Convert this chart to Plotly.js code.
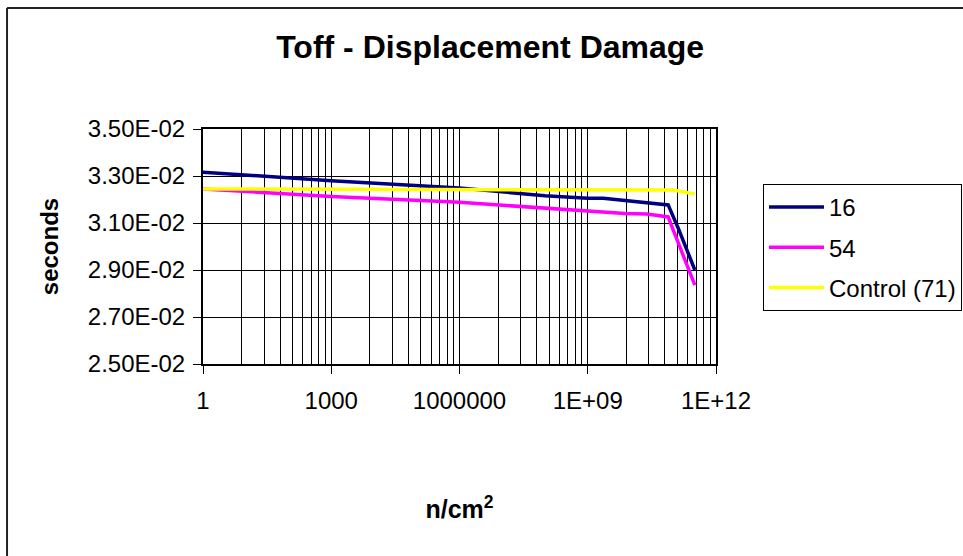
<!DOCTYPE html>
<html><head><meta charset="utf-8">
<script src="https://cdn.plot.ly/plotly-3.0.1.min.js"></script>
<style>html,body{margin:0;padding:0;background:#fff}#chart{width:963px;height:556px}</style>
</head><body><div id="chart"></div>
<script>
const fluence16 = [1, 1e3, 1e6, 1e8, 1e9, 2.3e9, 7.6e10, 1.3e11, 3.2e11];
const toff16 = [0.03316, 0.0328, 0.03249, 0.03216, 0.03205, 0.03205, 0.03177, 0.03079, 0.02900];
const fluence54 = [1, 1e3, 1e6, 6.6e8, 7.4e9, 2.4e10, 7.6e10, 1.05e11, 3.2e11];
const toff54 = [0.03245, 0.03213, 0.03188, 0.03155, 0.0314, 0.03138, 0.03126, 0.0306, 0.02836];
const fluence71 = [1, 1e6, 7.6e10, 1e11, 3.2e11];
const toff71 = [0.03245, 0.03242, 0.0324, 0.0324, 0.03223];
const seriesNames = ["16", "54", "Control (71)"];
const xTickVals = [1, 1e3, 1e6, 1e9, 1e12];
const xTickText = ["1", "1000", "1000000", "1E+09", "1E+12"];
const yTickVals = [0.025, 0.027, 0.029, 0.031, 0.033, 0.035];
const yTickText = ["2.50E-02", "2.70E-02", "2.90E-02", "3.10E-02", "3.30E-02", "3.50E-02"];

const font = "Arial, 'Liberation Sans', sans-serif";
const traces = [
  {x: fluence16, y: toff16, name: seriesNames[0], legendgroup: "a", mode: "lines", line: {color: "#000080", width: 3.5}},
  {x: fluence54, y: toff54, name: seriesNames[1], legendgroup: "b", mode: "lines", line: {color: "#FF00FF", width: 3.5}},
  {x: fluence71, y: toff71, name: seriesNames[2], legendgroup: "c", mode: "lines", line: {color: "#FFFF00", width: 3.5}}
];
const layout = {
  width: 963, height: 556,
  margin: {l: 203, r: 247, t: 129, b: 192, autoexpand: false},
  paper_bgcolor: "#fff", plot_bgcolor: "#fff",
  font: {family: font, size: 24, color: "#000"},
  title: {text: "<b>Toff - Displacement Damage</b>", font: {family: font, size: 32, color: "#000"}, x: 0.509, xanchor: "center", y: 0.9155, yanchor: "middle"},
  showlegend: true,
  legend: {x: 1.0916, xanchor: "left", y: 0.766, yanchor: "top", bordercolor: "#000", borderwidth: 1, bgcolor: "#fff",
           font: {size: 24, family: font}, itemwidth: 55, traceorder: "grouped", tracegroupgap: 6},
  xaxis: {
    type: "log", range: [0, 12], tickmode: "array", tickvals: xTickVals, ticktext: xTickText,
    ticks: "outside", ticklen: 8, tickcolor: "#000", showgrid: false, zeroline: false,
    showline: true, linecolor: "#000", linewidth: 2, mirror: true, ticklabelstandoff: 6,
    tickfont: {size: 24, family: font},
    title: {text: "<b>n/cm<sup>2</sup></b>", font: {size: 25, family: font}, standoff: 88}
  },
  xaxis2: {
    type: "log", range: [0, 4], overlaying: "x", dtick: "D1", showticklabels: false,
    showgrid: true, gridcolor: "#000", gridwidth: 1, ticks: "", zeroline: false, showline: false, layer: "below traces"
  },
  yaxis: {
    range: [0.025, 0.035], tickmode: "array", tickvals: yTickVals, ticktext: yTickText,
    ticks: "outside", ticklen: 8, tickcolor: "#000", showgrid: true, gridcolor: "#000", gridwidth: 1,
    showline: true, linecolor: "#000", linewidth: 2, mirror: true, zeroline: false, ticklabelstandoff: 3,
    tickfont: {size: 24, family: font},
    title: {text: "<b>seconds</b>", font: {size: 24, family: font}, standoff: 22}
  },
  shapes: [
    {type: "line", xref: "paper", yref: "paper", x0: -0.382, x1: 1.6, y0: 1.5149, y1: 1.5149, line: {color: "#222", width: 2}},
    {type: "line", xref: "paper", yref: "paper", x0: -0.382, x1: -0.382, y0: 1.5149, y1: -0.83, line: {color: "#222", width: 2}}
  ]
};
const gridTrace = {x: [1, 1e4], y: [null, null], xaxis: "x2", yaxis: "y", showlegend: false, hoverinfo: "skip", mode: "lines"};
Plotly.newPlot("chart", [gridTrace].concat(traces), layout, {displayModeBar: false, staticPlot: true});
</script></body></html>
